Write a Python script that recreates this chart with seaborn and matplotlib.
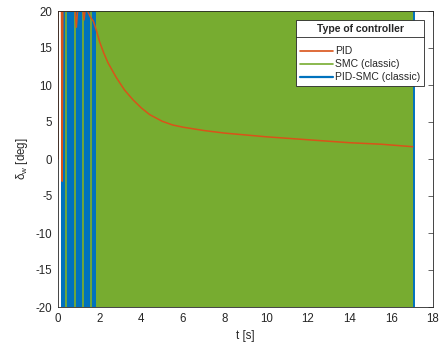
import matplotlib
matplotlib.use("Agg")
import matplotlib.pyplot as plt
import seaborn as sns
import pandas as pd
from matplotlib.lines import Line2D

# ---------------- data ----------------
pid_t = [0.0, 0.0, 0.17, 0.2, 0.23, 0.82, 0.88, 0.94, 1.2, 1.25, 1.3, 1.42, 1.55,
         1.7, 1.85, 2.0, 2.2, 2.4, 2.8, 3.2, 3.6, 4.0, 4.4, 5.0, 5.5, 6.0, 7.0, 8.0,
         10.0, 12.0, 14.0, 15.5, 17.03]
pid_v = [0.0, 20.0, 20.0, -3.0, 20.0, 20.0, 17.8, 20.0, 20.0, 18.8, 20.0, 20.0, 19.2,
         18.6, 17.3, 15.8, 14.3, 13.0, 11.0, 9.3, 8.0, 6.9, 6.0, 5.1, 4.6, 4.3, 3.85, 3.5,
         3.0, 2.6, 2.2, 2.0, 1.66]

sat_limit = 20.0                       # control saturation (deg)
smc_dense_t = [1.82, 17.08]            # SMC chattering between +/- limit
smc_switch_t = [0.38, 0.82, 1.18, 1.57]  # isolated SMC switching instants
pidsmc_dense_t = [0.15, 1.82]          # PID-SMC chattering between +/- limit
pidsmc_end_t = [17.1]                  # final PID-SMC switch

series_labels = ["PID", "SMC (classic)", "PID-SMC (classic)"]
legend_title = "Type of controller"
x_ticks = [0, 2, 4, 6, 8, 10, 12, 14, 16, 18]
y_ticks = [-20, -15, -10, -5, 0, 5, 10, 15, 20]

# ---------------- style ----------------
sns.set_style("white")
plt.rcParams["font.family"] = ["Liberation Sans", "DejaVu Sans"]
plt.rcParams["mathtext.fontset"] = "custom"
plt.rcParams["mathtext.rm"] = "Liberation Sans"
plt.rcParams["mathtext.it"] = "Liberation Sans:italic"
plt.rcParams["axes.unicode_minus"] = False

c_pid = "#D95319"
c_smc = "#77AC30"
c_pidsmc = "#0072BD"
c_axis = "#262626"

fig = plt.figure(figsize=(4.41, 3.46), dpi=100)
ax = fig.add_axes([58 / 441, 39 / 346, 375 / 441, 296 / 346])

# PID-SMC chattering band
ax.fill_between(pidsmc_dense_t, -sat_limit, sat_limit, color=c_pidsmc, lw=0, zorder=1)
# SMC switching lines and chattering band
ax.vlines(smc_switch_t, -sat_limit, sat_limit, color=c_smc, lw=1.3, zorder=1.2)
ax.fill_between(smc_dense_t, -sat_limit, sat_limit, color=c_smc, lw=0, zorder=1.3)
ax.vlines(pidsmc_end_t, -sat_limit, sat_limit, color=c_pidsmc, lw=1.4, zorder=1.4)

# PID response
df_pid = pd.DataFrame({"t": pid_t, "v": pid_v})
sns.lineplot(data=df_pid, x="t", y="v", sort=False, estimator=None,
             color=c_pid, lw=1.1, ax=ax, zorder=3)

ax.set_xlim(0, 18)
ax.set_ylim(-20, 20)
ax.set_xticks(x_ticks)
ax.set_yticks(y_ticks)
ax.set_axisbelow(True)
ax.tick_params(direction="in", top=True, right=True, length=3.5, width=0.5,
               colors=c_axis, labelsize=8.3, pad=4)
for s in ax.spines.values():
    s.set_color(c_axis)
    s.set_linewidth(0.6)
    s.set_zorder(5)

ax.set_xlabel("t [s]", fontsize=8.3, color=c_axis, labelpad=4)
ax.set_ylabel(r"$\mathrm{\delta_w}$ [deg]", fontsize=8.3, color=c_axis, labelpad=4)

handles = [Line2D([], [], color=c_pid, lw=1.2),
           Line2D([], [], color=c_smc, lw=1.2),
           Line2D([], [], color=c_pidsmc, lw=1.6)]
leg = ax.legend(handles, series_labels, title=legend_title,
                loc="upper right", bbox_to_anchor=(424 / 441, 1 - 20 / 346),
                bbox_transform=fig.transFigure, borderaxespad=0,
                fontsize=7.5, title_fontproperties={"weight": "bold", "size": 7.5},
                frameon=True, fancybox=False, framealpha=1, edgecolor=c_axis,
                handlelength=3.2, handletextpad=0.2, labelspacing=0.3,
                borderpad=0.35)
leg.get_frame().set_linewidth(0.6)
leg.set_zorder(10)
# extra room between the title and the entries (MATLAB-style title header)
leg._legend_box.sep = 9

fig.canvas.draw()
tb = leg.get_title().get_window_extent()
fb = leg.get_frame().get_window_extent()
inv = fig.transFigure.inverted()
y_sep = tb.y0 - 3
(x0, y0) = inv.transform((fb.x0, y_sep))
(x1, _) = inv.transform((fb.x1, y_sep))
fig.add_artist(Line2D([x0, x1], [y0, y0], color=c_axis, lw=0.6, zorder=11))

fig.savefig("out.png", dpi=100)
